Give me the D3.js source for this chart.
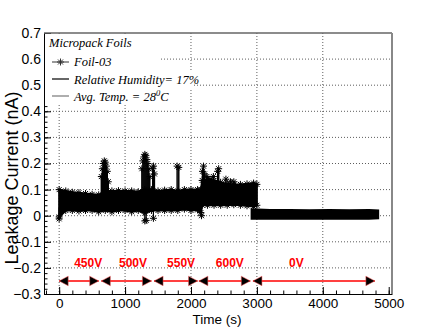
<!DOCTYPE html>
<html>
<head>
<meta charset="utf-8">
<script src="https://cdn.jsdelivr.net/npm/d3@7"></script>
<style>
body { margin: 0; background: #fff; }
</style>
</head>
<body>
<svg id="chart" width="436" height="327"></svg>
<script>
// main band (450V - 600V), envelope of the readings
const bandTime = [0, 100, 200, 300, 400, 500, 600, 700, 800, 900, 1000, 1100, 1200, 1300, 1400, 1500,
	1600, 1700, 1800, 1900, 2000, 2100, 2150, 2170, 2250, 2350, 2450, 2550, 2650, 2750, 2850, 2950, 3000];
const bandHi = [0.100, 0.095, 0.090, 0.088, 0.085, 0.082, 0.080, 0.095, 0.095, 0.096, 0.095, 0.095, 0.092, 0.100, 0.100, 0.095,
	0.098, 0.100, 0.095, 0.100, 0.100, 0.100, 0.100, 0.135, 0.140, 0.135, 0.128, 0.122, 0.120, 0.120, 0.122, 0.125, 0.120];
const bandLo = [-0.005, 0.020, 0.020, 0.018, 0.020, 0.020, 0.015, 0.020, 0.015, 0.020, 0.020, 0.015, 0.020, 0.010, 0.020, 0.020,
	0.020, 0.020, 0.020, 0.025, 0.020, 0.022, 0.012, 0.040, 0.040, 0.040, 0.040, 0.040, 0.042, 0.040, 0.038, 0.035, 0.040];

// 0V band
const offTime = [2920, 3200, 3500, 3800, 4100, 4400, 4700, 4840];
const offHi = [0.025, 0.022, 0.022, 0.021, 0.022, 0.021, 0.022, 0.020];
const offLo = [-0.012, -0.012, -0.011, -0.012, -0.012, -0.011, -0.012, -0.010];

// spikes above the band
const spikeTime = [640, 655, 670, 685, 700, 715, 730, 745,
	1255, 1270, 1285, 1300, 1315, 1330, 1345, 1360, 1375, 1420, 1432, 1445,
	1790, 1815, 2175, 2190, 2205, 2240, 2290, 2340, 2405, 2420, 2530, 2600, 2650];
const spikeTop = [0.15, 0.18, 0.20, 0.21, 0.205, 0.19, 0.17, 0.13,
	0.18, 0.21, 0.225, 0.235, 0.23, 0.215, 0.20, 0.18, 0.15, 0.18, 0.19, 0.16,
	0.19, 0.185, 0.17, 0.19, 0.16, 0.15, 0.14, 0.15, 0.17, 0.18, 0.14, 0.13, 0.13];
// dips below the band
const dipTime = [0, 1300, 1320, 1430, 2160];
const dipLow = [-0.012, -0.02, -0.018, -0.01, 0.0];

// voltage steps
const stepStart = [0, 640, 1440, 2120, 2940];
const stepEnd = [600, 1400, 2100, 2900, 4790];
const stepLabel = ["450V", "500V", "550V", "600V", "0V"];
const stepLabelTime = [440, 1120, 1850, 2590, 3600];

const xMajor = [0, 1000, 2000, 3000, 4000, 5000];
const yMajor = [-0.3, -0.2, -0.1, 0, 0.1, 0.2, 0.3, 0.4, 0.5, 0.6, 0.7];

const sansFont = "'Liberation Sans', Arial, sans-serif";
const serifFont = "'Liberation Serif', 'Times New Roman', serif";

const svg = d3.select("#chart").style("font-family", sansFont);
svg.append("rect").attr("width", 436).attr("height", 327).attr("fill", "#fff");

const x = d3.scaleLinear().domain([-230, 5050]).range([44, 392]);
const y = d3.scaleLinear().domain([-0.3, 0.7]).range([294, 33]);

// grid
svg.append("g").selectAll("line").data(xMajor.filter(d => d > 0 && d < 5000)).enter().append("line")
	.attr("x1", d => x(d)).attr("x2", d => x(d)).attr("y1", 33).attr("y2", 294)
	.attr("stroke", "#333").attr("stroke-width", 0.8).attr("stroke-dasharray", "1,2");
svg.append("line").attr("x1", x(0)).attr("x2", x(0)).attr("y1", 33).attr("y2", 294)
	.attr("stroke", "#333").attr("stroke-width", 0.8).attr("stroke-dasharray", "1,2");
svg.append("g").selectAll("line").data(yMajor.filter(d => d > -0.3 && d < 0.7)).enter().append("line")
	.attr("x1", 44).attr("x2", 392).attr("y1", d => y(d)).attr("y2", d => y(d))
	.attr("stroke", "#333").attr("stroke-width", 0.8).attr("stroke-dasharray", "1,2");

// data
const star = "M-3.5,0L3.5,0M0,-3.5L0,3.5M-2.5,-2.5L2.5,2.5M-2.5,2.5L2.5,-2.5";
function drawBand(ts, hi, lo, markers) {
	const pts = ts.map((t, i) => ({t: t, hi: hi[i], lo: lo[i]}));
	const area = d3.area().x(d => x(d.t)).y0(d => y(d.lo)).y1(d => y(d.hi));
	svg.append("path").datum(pts).attr("d", area)
		.attr("fill", "#000").attr("stroke", "#000").attr("stroke-width", 2);
	if (!markers) return;
	const g = svg.append("g");
	pts.forEach(d => {
		g.append("path").attr("d", star).attr("transform", `translate(${x(d.t)},${y(d.hi)})`)
			.attr("stroke", "#000").attr("fill", "none");
		g.append("path").attr("d", star).attr("transform", `translate(${x(d.t)},${y(d.lo)})`)
			.attr("stroke", "#000").attr("fill", "none");
	});
}
drawBand(bandTime, bandHi, bandLo, true);
drawBand(offTime, offHi, offLo, false);

const spikes = spikeTime.map((t, i) => ({t: t, top: spikeTop[i]}));
svg.append("g").selectAll("line").data(spikes).enter().append("line")
	.attr("x1", d => x(d.t)).attr("x2", d => x(d.t))
	.attr("y1", d => y(0.08)).attr("y2", d => y(d.top))
	.attr("stroke", "#000").attr("stroke-width", 1.5);
svg.append("g").selectAll("path").data(spikes).enter().append("path")
	.attr("d", star).attr("transform", d => `translate(${x(d.t)},${y(d.top)})`)
	.attr("stroke", "#000").attr("fill", "none");

const dips = dipTime.map((t, i) => ({t: t, low: dipLow[i]}));
svg.append("g").selectAll("line").data(dips).enter().append("line")
	.attr("x1", d => x(d.t)).attr("x2", d => x(d.t))
	.attr("y1", d => y(0.03)).attr("y2", d => y(d.low))
	.attr("stroke", "#000").attr("stroke-width", 1.2);
svg.append("g").selectAll("path").data(dips).enter().append("path")
	.attr("d", star).attr("transform", d => `translate(${x(d.t)},${y(d.low)})`)
	.attr("stroke", "#000").attr("fill", "none");

// voltage arrows
const steps = stepStart.map((s, i) => ({s: s, e: stepEnd[i], label: stepLabel[i], lt: stepLabelTime[i]}));
const arrowY = y(-0.25);
const ag = svg.append("g");
ag.selectAll("line").data(steps).enter().append("line")
	.attr("x1", d => x(d.s)).attr("x2", d => x(d.e)).attr("y1", arrowY).attr("y2", arrowY)
	.attr("stroke", "#f00").attr("stroke-width", 1.4);
ag.selectAll("path.l").data(steps).enter().append("path").attr("class", "l")
	.attr("d", d => `M${x(d.s)},${arrowY}L${x(d.s) + 9},${arrowY - 4.8}L${x(d.s) + 9},${arrowY + 4.8}Z`)
	.attr("fill", "#000").attr("stroke", "#f55").attr("stroke-width", 0.5);
ag.selectAll("path.r").data(steps).enter().append("path").attr("class", "r")
	.attr("d", d => `M${x(d.e)},${arrowY}L${x(d.e) - 9},${arrowY - 4.8}L${x(d.e) - 9},${arrowY + 4.8}Z`)
	.attr("fill", "#000").attr("stroke", "#f55").attr("stroke-width", 0.5);
ag.selectAll("text").data(steps).enter().append("text")
	.attr("x", d => x(d.lt)).attr("y", y(-0.197)).attr("text-anchor", "middle")
	.attr("fill", "#f00").attr("font-weight", "bold").attr("font-size", 12)
	.style("font-family", sansFont).text(d => d.label);

// axes
const xAxis = svg.append("g").attr("transform", "translate(0,294)")
	.call(d3.axisBottom(x).tickValues(xMajor).tickSizeInner(-7).tickSizeOuter(0).tickPadding(4)
		.tickFormat(d3.format("d")));
svg.append("g").attr("transform", "translate(0,294)")
	.call(d3.axisBottom(x).tickValues(d3.range(-200, 5001, 200)).tickSize(-3.5).tickFormat(""))
	.select(".domain").remove();
xAxis.selectAll("text").attr("font-size", 13.5).attr("fill", "#000").style("font-family", sansFont);

const yAxis = svg.append("g").attr("transform", "translate(44,0)")
	.call(d3.axisLeft(y).tickValues(yMajor).tickSizeInner(-7).tickSizeOuter(0).tickPadding(3)
		.tickFormat(d => Math.abs(d) < 1e-9 ? "0" : d3.format(".1f")(d)));
svg.append("g").attr("transform", "translate(44,0)")
	.call(d3.axisLeft(y).tickValues(d3.range(-0.3, 0.7001, 0.02)).tickSize(-3.5).tickFormat(""))
	.select(".domain").remove();
yAxis.selectAll("text").attr("font-size", 14).attr("fill", "#000").style("font-family", sansFont);
svg.selectAll(".domain").attr("stroke", "#000");
svg.selectAll(".tick line").attr("stroke", "#000");

// frame top and right
svg.append("line").attr("x1", 44).attr("x2", 392).attr("y1", 33).attr("y2", 33)
	.attr("stroke", "#666").attr("stroke-width", 1.5);
svg.append("line").attr("x1", 392).attr("x2", 392).attr("y1", 33).attr("y2", 294)
	.attr("stroke", "#888").attr("stroke-width", 2);

// titles
svg.append("text").attr("x", 217).attr("y", 324).attr("text-anchor", "middle")
	.attr("font-size", 13.5).style("font-family", sansFont).text("Time (s)");
svg.append("text").attr("transform", "translate(18,178) rotate(-90)").attr("text-anchor", "middle")
	.attr("font-size", 18).style("font-family", sansFont).text("Leakage Current (nA)");

// legend
const lg = svg.append("g");
lg.append("rect").attr("x", 45).attr("y", 34).attr("width", 115).attr("height", 71).attr("fill", "#fff");
lg.append("rect").attr("x", 160).attr("y", 70).attr("width", 32).attr("height", 18).attr("fill", "#fff");
lg.append("text").attr("x", 49).attr("y", 47).style("font-family", serifFont).attr("font-style", "italic")
	.attr("font-size", 12.5).text("Micropack Foils");
const rows = [
	{ly: 62, ty: 66, color: "#555", marker: true, label: "Foil-03"},
	{ly: 79, ty: 83.5, color: "#000", marker: false, label: "Relative Humidity= 17%"},
	{ly: 96, ty: 101, color: "#777", marker: false, label: "Avg. Temp. = 28"}
];
rows.forEach((r, i) => {
	lg.append("line").attr("x1", 52).attr("x2", 69).attr("y1", r.ly).attr("y2", r.ly)
		.attr("stroke", r.color).attr("stroke-width", 1.2);
	if (r.marker) {
		lg.append("path").attr("d", star).attr("transform", `translate(60.5,${r.ly})`)
			.attr("stroke", "#333").attr("fill", "none");
	}
	const t = lg.append("text").attr("x", 74).attr("y", r.ty).style("font-family", serifFont)
		.attr("font-style", "italic").attr("font-size", 12.5).text(r.label);
	if (i === 2) {
		t.append("tspan").attr("dy", -5).attr("font-size", 8.5).text("0");
		t.append("tspan").attr("dy", 5).text("C");
	}
});
</script>
</body>
</html>
